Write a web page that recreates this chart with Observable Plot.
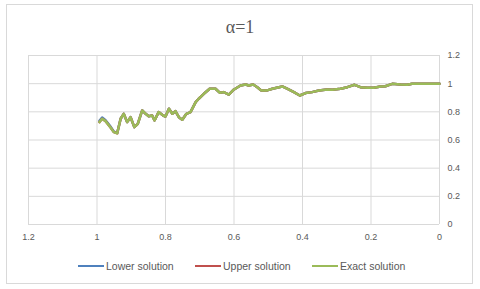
<!DOCTYPE html>
<html><head><meta charset="utf-8">
<script src="https://cdn.jsdelivr.net/npm/d3@7"></script>
<script src="https://cdn.jsdelivr.net/npm/@observablehq/plot@0.6"></script>
<style>
body{margin:0;background:#fff;}
#wrap{position:relative;width:480px;height:289px;overflow:hidden;background:#fff;}
#frame{position:absolute;left:6px;top:4px;width:467px;height:280px;border:1px solid #d9d9d9;box-sizing:border-box;}
#title{position:absolute;left:0;top:16px;width:480px;text-align:center;font-family:"Liberation Serif","DejaVu Serif",serif;font-size:18px;color:#595959;line-height:22px;}
#chart{position:absolute;left:0;top:40px;}
#legend{position:absolute;top:259px;left:0;width:480px;font-family:"Liberation Sans",Arial,sans-serif;font-size:10.5px;color:#595959;}
.item{position:absolute;display:flex;align-items:center;height:14px;}
.sw{display:inline-block;width:26px;height:2px;margin-right:2px;}
</style></head>
<body><div id="wrap"><div id="frame"></div><div id="title">α=1</div><div id="chart"></div>
<div id="legend"></div></div>
<script>
const seriesNames = ["Lower solution","Upper solution","Exact solution"];
const seriesColors = ["#4F81BD","#C0504D","#9BBB59"];
const xTicks = [0,0.2,0.4,0.6,0.8,1,1.2];
const yTicks = [0,0.2,0.4,0.6,0.8,1,1.2];

const xs = [0.993,0.985,0.975,0.961,0.951,0.941,0.931,0.922,0.912,0.902,0.891,0.881,0.868,0.858,0.849,0.839,0.832,0.820,0.807,0.800,0.790,0.780,0.771,0.761,0.751,0.739,0.727,0.712,0.703,0.688,0.671,0.654,0.641,0.630,0.615,0.601,0.581,0.566,0.557,0.544,0.532,0.521,0.503,0.488,0.459,0.445,0.425,0.408,0.391,0.372,0.352,0.328,0.313,0.289,0.269,0.248,0.231,0.211,0.192,0.172,0.158,0.138,0.114,0.094,0.080,0.0];
const exact = [0.727,0.751,0.734,0.691,0.656,0.648,0.751,0.786,0.727,0.762,0.691,0.715,0.810,0.786,0.769,0.774,0.739,0.798,0.774,0.767,0.822,0.786,0.805,0.762,0.744,0.786,0.798,0.869,0.893,0.928,0.964,0.964,0.935,0.940,0.923,0.957,0.987,0.994,0.987,0.994,0.975,0.952,0.952,0.964,0.980,0.964,0.940,0.916,0.933,0.940,0.952,0.959,0.957,0.964,0.975,0.992,0.975,0.971,0.971,0.980,0.982,0.999,0.994,0.992,0.999,1.0];
const lower = [0.737,0.760,0.740,0.697,0.660,0.650,0.751,0.786,0.727,0.762,0.691,0.715,0.810,0.786,0.769,0.774,0.739,0.798,0.774,0.767,0.822,0.786,0.805,0.762,0.744,0.786,0.798,0.869,0.893,0.928,0.964,0.964,0.935,0.940,0.923,0.957,0.987,0.994,0.987,0.994,0.975,0.952,0.952,0.964,0.980,0.964,0.940,0.916,0.933,0.940,0.952,0.959,0.957,0.964,0.975,0.992,0.975,0.971,0.971,0.980,0.982,0.999,0.994,0.992,0.999,1.0];
const upper = exact.slice();

const data = [];
[lower, upper, exact].forEach((arr, si) => arr.forEach((v, i) => data.push({s: seriesNames[si], x: xs[i], y: v})));

const chart = Plot.plot({
  width: 480, height: 215,
  marginTop: 15, marginBottom: 31, marginLeft: 28, marginRight: 41,
  style: {fontFamily: "'Liberation Sans', Arial, sans-serif", fontSize: "9px", color: "#595959", background: "transparent"},
  x: {domain: [1.2, 0]},
  y: {domain: [0, 1.2]},
  color: {domain: seriesNames, range: seriesColors},
  marks: [
    Plot.ruleX(xTicks, {x: d => d, stroke: "#d9d9d9", strokeWidth: 1}),
    Plot.ruleY(yTicks, {y: d => d, stroke: "#d9d9d9", strokeWidth: 1}),
    Plot.axisX({ticks: xTicks, tickSize: 0, tickPadding: 9, label: null, tickFormat: d => String(d), fill: "#595959"}),
    Plot.axisY({ticks: yTicks, anchor: "right", tickSize: 0, tickPadding: 8, label: null, tickFormat: d => String(d), textAnchor: "start", fill: "#595959"}),
    Plot.line(data, {x: "x", y: "y", z: "s", stroke: "s", strokeWidth: 2.5, curve: "linear"})
  ]
});
document.getElementById("chart").appendChild(chart);

const legend = document.getElementById("legend");
const lefts = [78, 195, 312];
seriesNames.forEach((n, i) => {
  const it = document.createElement("div");
  it.className = "item";
  it.style.left = lefts[i] + "px";
  it.innerHTML = `<span class="sw" style="background:${seriesColors[i]}"></span><span>${n}</span>`;
  legend.appendChild(it);
});
</script></body></html>
